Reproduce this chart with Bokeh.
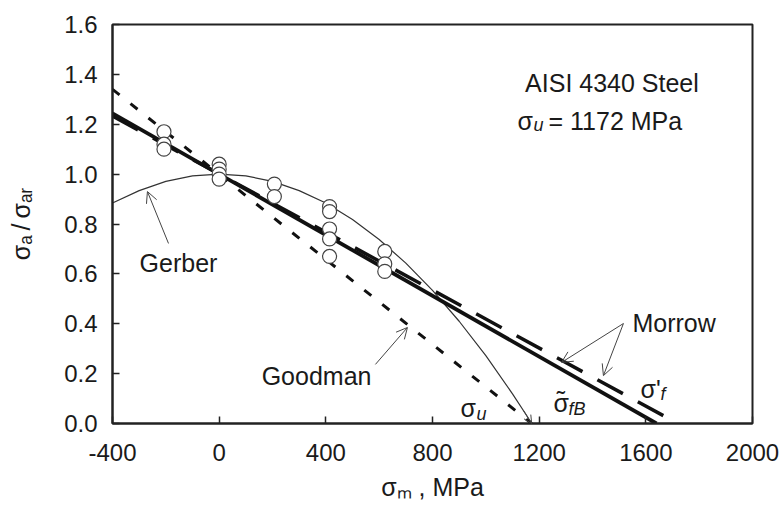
import math
from bokeh.plotting import figure
from bokeh.models import Label, Arrow, OpenHead, FixedTicker, PrintfTickFormatter
from bokeh.embed import file_html
from bokeh.resources import INLINE

# ---------------- data ----------------
x_ticks = [-400, 0, 400, 800, 1200, 1600, 2000]
y_ticks = [0.0, 0.2, 0.4, 0.6, 0.8, 1.0, 1.2, 1.4, 1.6]

# test data (mean stress MPa, normalised amplitude)
test_sm = [-207, -207, -207, 0, 0, 0, 0, 207, 207,
           414, 414, 414, 414, 414, 621, 621, 621]
test_ratio = [1.17, 1.12, 1.10, 1.04, 1.02, 1.00, 0.98, 0.96, 0.91,
              0.87, 0.85, 0.78, 0.74, 0.67, 0.69, 0.64, 0.61]

# Gerber curve
gerber_x = [-400, -300, -200, -100, 0, 100, 200, 300, 400, 500, 600,
            700, 800, 900, 1000, 1100, 1150, 1172]
gerber_y = [0.884, 0.934, 0.971, 0.993, 1.000, 0.993, 0.971, 0.934, 0.884,
            0.818, 0.738, 0.643, 0.534, 0.410, 0.272, 0.119, 0.037, 0.0]

# Goodman line
goodman_x = [-400, 1172]
goodman_y = [1.34, 0.0]

# sigma_fB (solid) line
sfb_x = [-400, 1640]
sfb_y = [1.244, 0.0]

# Morrow sigma'f (dashed) line
morrow_x = [-400, 1720]
morrow_y = [1.233, 0.0]

FONT = "Liberation Sans"
TXT = "#1a1a1a"

p = figure(width=783, height=506, frame_width=640, frame_height=399,
           x_range=(-400, 2000), y_range=(0, 1.6),
           output_backend="svg", toolbar_location=None,
           min_border_left=112, min_border_right=31,
           min_border_top=24, min_border_bottom=83)
p.background_fill_color = "white"
p.border_fill_color = "white"
p.outline_line_color = "#222222"
p.outline_line_width = 2
p.grid.visible = False

for ax in (p.xaxis[0], p.yaxis[0]):
    ax.major_tick_in = 7
    ax.major_tick_out = 0
    ax.minor_tick_line_color = None
    ax.axis_line_width = 2
    ax.axis_line_color = "#222222"
    ax.major_tick_line_width = 1.5
    ax.major_tick_line_color = "#222222"
    ax.major_label_text_font = FONT
    ax.major_label_text_font_size = "24px"
    ax.major_label_text_color = TXT
    ax.axis_label_text_font = FONT
    ax.axis_label_text_font_size = "25px"
    ax.axis_label_text_font_style = "normal"
    ax.axis_label_text_color = TXT

p.xaxis.ticker = FixedTicker(ticks=x_ticks)
p.yaxis.ticker = FixedTicker(ticks=y_ticks)
p.xaxis.formatter = PrintfTickFormatter(format="%d")
p.yaxis.formatter = PrintfTickFormatter(format="%.1f")
p.xaxis.major_label_standoff = 20
p.yaxis.major_label_standoff = 15
p.xaxis.axis_label = "σₘ , MPa"
p.yaxis.axis_label = "σₐ\u2009/\u2009σₐᵣ"
p.xaxis.axis_label_standoff = 9
p.yaxis.axis_label_standoff = 26

# ---------------- lines ----------------
p.line(gerber_x, gerber_y, line_color="#333333", line_width=1.2)
p.line(goodman_x, goodman_y, line_color="#111111", line_width=3, line_dash="9 14")
p.line(morrow_x, morrow_y, line_color="#111111", line_width=3.5, line_dash="29 17")
p.line(sfb_x, sfb_y, line_color="#111111", line_width=3.8)

p.scatter(test_sm, test_ratio, size=14, marker="circle",
          fill_color="white", line_color="#444444", line_width=1.2)

# ---------------- arrows ----------------
def arrow(x0, y0, x1, y1, size=11):
    p.add_layout(Arrow(end=OpenHead(size=size, line_width=1, line_color="#444444"),
                       x_start=x0, y_start=y0, x_end=x1, y_end=y1,
                       line_width=1, line_color="#444444"))

arrow(-190, 0.722, -269, 0.930)
arrow(586, 0.237, 706, 0.385)
arrow(1516, 0.401, 1284, 0.245)
arrow(1516, 0.401, 1441, 0.192)
arrow(1140, 0.054, 1172, 0.0, size=8)

# ---------------- texts ----------------
def lab(x, y, t, size=25, style="normal", align="left", angle=0.0):
    p.add_layout(Label(x=x, y=y, text=t, text_font=FONT,
                       text_font_size=f"{size}px", text_font_style=style,
                       text_color=TXT, text_align=align,
                       text_baseline="alphabetic", angle=angle))

lab(1473, 1.367, "AISI 4340 Steel", align="center")
lab(1119, 1.215, "σ")
lab(1179, 1.195, "u", size=18, style="italic")
lab(1235, 1.215, "= 1172 MPa")

lab(-152.5, 0.642, "Gerber", align="center")
lab(571, 0.192, "Goodman", align="right")
lab(905, 0.064, "σ")
lab(965, 0.040, "u", size=18, style="italic")
lab(1282, 0.096, "˜", align="center")
lab(1254, 0.084, "σ")
lab(1310, 0.060, "fB", size=18, style="italic")
lab(1580, 0.140, "σ'")
lab(1655, 0.120, "f", size=18, style="italic")
lab(1706, 0.405, "Morrow", align="center")

open("out.html", "w").write(file_html(p, INLINE))
